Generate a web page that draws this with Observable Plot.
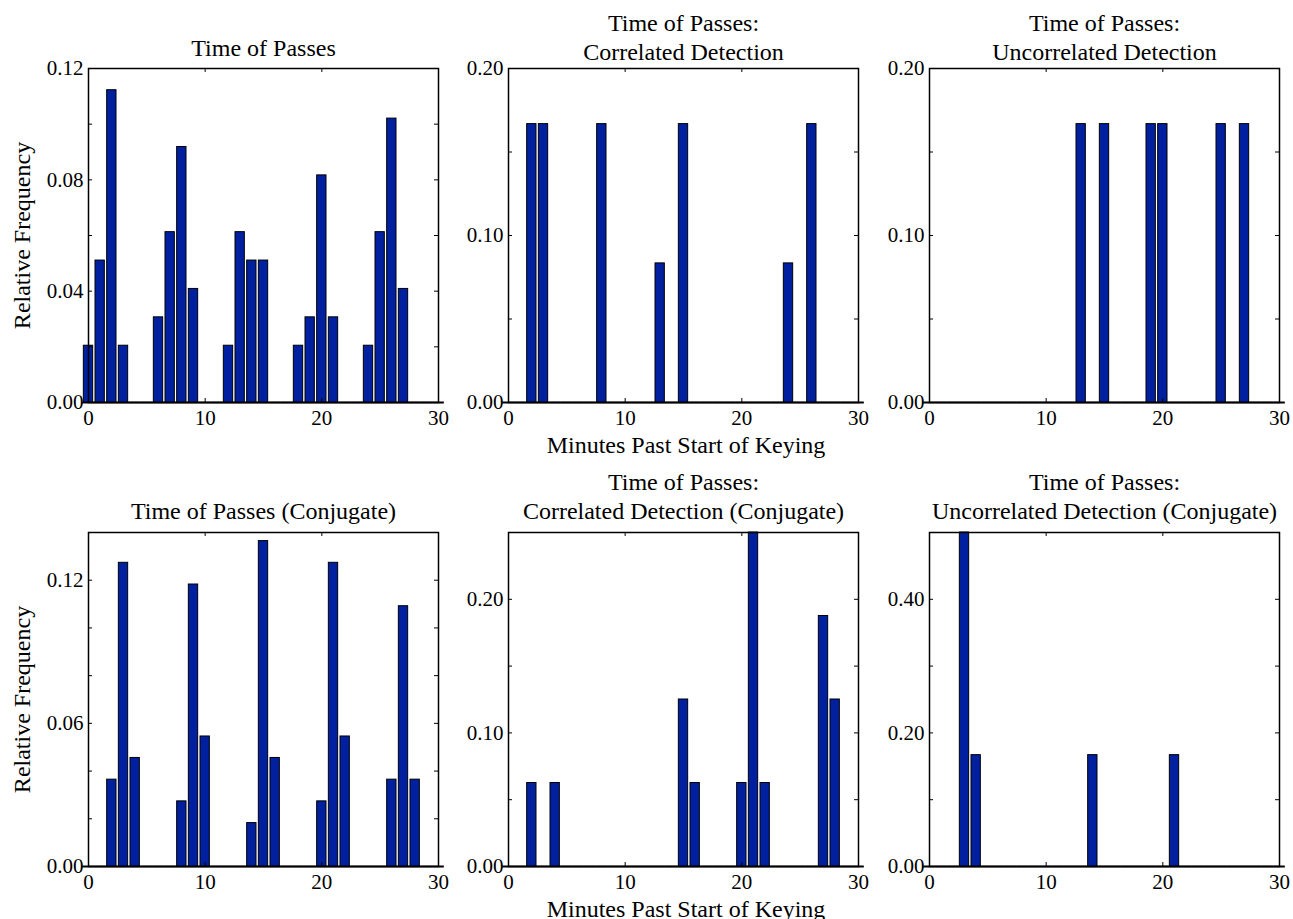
<!DOCTYPE html>
<html>
<head>
<meta charset="utf-8">
<script src="https://cdn.jsdelivr.net/npm/d3@7"></script>
<script src="https://cdn.jsdelivr.net/npm/@observablehq/plot@0.6"></script>
<style>
  html, body { margin: 0; padding: 0; background: #fff; overflow: hidden; }
  #fig { position: relative; width: 1293px; height: 919px; overflow: hidden; background: #fff; }
  #fig svg { position: absolute; font-family: 'Liberation Serif', 'Times New Roman', serif; }
  #fig svg text { font-family: 'Liberation Serif', 'Times New Roman', serif; }
</style>
</head>
<body>
<div id="fig"></div>
<script>
// ---------- data ----------
const bins = [0,1,2,3,4,5,6,7,8,9,10,11,12,13,14,15,16,17,18,19,20,21,22,23,24,25,26,27,28,29,30];
const xTickValues = [0, 10, 20, 30];

// Time of Passes
const p1Minutes = [0, 1, 2, 3, 6, 7, 8, 9, 12, 13, 14, 15, 18, 19, 20, 21, 24, 25, 26, 27];
const p1Freq = [0.0204, 0.0510, 0.1122, 0.0204, 0.0306, 0.0612, 0.0918, 0.0408, 0.0204, 0.0612,
                0.0510, 0.0510, 0.0204, 0.0306, 0.0816, 0.0306, 0.0204, 0.0612, 0.1020, 0.0408];
const p1YTicks = [0, 0.02, 0.04, 0.06, 0.08, 0.10, 0.12];
const p1YLabels = [0, 0.04, 0.08, 0.12];

// Correlated Detection
const p2Minutes = [2, 3, 8, 13, 15, 24, 26];
const p2Freq = [0.1667, 0.1667, 0.1667, 0.0833, 0.1667, 0.0833, 0.1667];
const p2YTicks = [0, 0.05, 0.10, 0.15, 0.20];
const p2YLabels = [0, 0.10, 0.20];

// Uncorrelated Detection
const p3Minutes = [13, 15, 19, 20, 25, 27];
const p3Freq = [0.1667, 0.1667, 0.1667, 0.1667, 0.1667, 0.1667];
const p3YTicks = [0, 0.05, 0.10, 0.15, 0.20];
const p3YLabels = [0, 0.10, 0.20];

// Time of Passes (Conjugate)
const p4Minutes = [2, 3, 4, 8, 9, 10, 14, 15, 16, 20, 21, 22, 26, 27, 28];
const p4Freq = [0.0364, 0.1273, 0.0455, 0.0273, 0.1182, 0.0545, 0.0182, 0.1364, 0.0455,
                0.0273, 0.1273, 0.0545, 0.0364, 0.1091, 0.0364];
const p4YTicks = [0, 0.02, 0.04, 0.06, 0.08, 0.10, 0.12, 0.14];
const p4YLabels = [0, 0.06, 0.12];

// Correlated Detection (Conjugate)
const p5Minutes = [2, 4, 15, 16, 20, 21, 22, 27, 28];
const p5Freq = [0.0625, 0.0625, 0.125, 0.0625, 0.0625, 0.25, 0.0625, 0.1875, 0.125];
const p5YTicks = [0, 0.05, 0.10, 0.15, 0.20, 0.25];
const p5YLabels = [0, 0.10, 0.20];

// Uncorrelated Detection (Conjugate)
const p6Minutes = [3, 4, 14, 21];
const p6Freq = [0.5, 0.1667, 0.1667, 0.1667];
const p6YTicks = [0, 0.1, 0.2, 0.3, 0.4, 0.5];
const p6YLabels = [0, 0.20, 0.40];

const titles = [
  "Time of Passes",
  "Time of Passes:\nCorrelated Detection",
  "Time of Passes:\nUncorrelated Detection",
  "Time of Passes (Conjugate)",
  "Time of Passes:\nCorrelated Detection (Conjugate)",
  "Time of Passes:\nUncorrelated Detection (Conjugate)"
];
const yLabel = "Relative Frequency";
const xLabel = "Minutes Past Start of Keying";

// ---------- layout ----------
const BLUE = "#0020a0";
const FONT = "'Liberation Serif', 'Times New Roman', serif";
const ML = 90, MR = 15, MT = 75, MB = 60, IW = 350, IH = 334;
const colLeft = [88.3, 507.7, 929.3];
const rowTop = [68, 532];

const specs = [
  {minutes: p1Minutes, freq: p1Freq, yMax: 0.12, yTicks: p1YTicks, yLabels: p1YLabels, title: titles[0], col: 0, row: 0, titleGap: 13, yl: true},
  {minutes: p2Minutes, freq: p2Freq, yMax: 0.20, yTicks: p2YTicks, yLabels: p2YLabels, title: titles[1], col: 1, row: 0, titleGap: 9, xl: true},
  {minutes: p3Minutes, freq: p3Freq, yMax: 0.20, yTicks: p3YTicks, yLabels: p3YLabels, title: titles[2], col: 2, row: 0, titleGap: 9},
  {minutes: p4Minutes, freq: p4Freq, yMax: 0.14, yTicks: p4YTicks, yLabels: p4YLabels, title: titles[3], col: 0, row: 1, titleGap: 14, yl: true},
  {minutes: p5Minutes, freq: p5Freq, yMax: 0.25, yTicks: p5YTicks, yLabels: p5YLabels, title: titles[4], col: 1, row: 1, titleGap: 14, xl: true},
  {minutes: p6Minutes, freq: p6Freq, yMax: 0.50, yTicks: p6YTicks, yLabels: p6YLabels, title: titles[5], col: 2, row: 1, titleGap: 14}
];

const fig = document.getElementById("fig");

for (const s of specs) {
  const data = s.minutes.map((m, i) => ({m, v: s.freq[i]}));
  const marks = [
    Plot.ruleY(bins, {y: () => 0, x1: d => d - 0.5, x2: d => d + 0.5, stroke: "black", strokeWidth: 2}),
    Plot.rectY(data, {x1: d => d.m - 0.4, x2: d => d.m + 0.4, y1: () => 0, y2: "v",
                      fill: BLUE, stroke: "black", strokeWidth: 1}),
    Plot.frame({stroke: "black", strokeWidth: 1.5}),
    Plot.tickY(s.yTicks, {y: d => d, insetRight: IW - 4, stroke: "black", strokeWidth: 1}),
    Plot.tickY(s.yTicks, {y: d => d, insetLeft: IW - 4, stroke: "black", strokeWidth: 1}),
    Plot.tickX(xTickValues, {x: d => d, insetBottom: IH - 4, stroke: "black", strokeWidth: 1}),
    Plot.tickX(xTickValues, {x: d => d, insetTop: IH - 4, stroke: "black", strokeWidth: 1}),
    Plot.axisY(s.yLabels, {tickSize: 0, tickPadding: 5, tickFormat: d3.format(".2f"), fontSize: 21, fontFamily: FONT, label: null, fill: "black"}),
    Plot.axisX(xTickValues, {tickSize: 0, tickPadding: 8, tickFormat: d => String(d), fontSize: 21, fontFamily: FONT, label: null, fill: "black"}),
    Plot.text([s.title], {frameAnchor: "top", textAnchor: "middle", lineAnchor: "bottom", dy: -s.titleGap, fontSize: 24, fontFamily: FONT, lineHeight: 1.2, fill: "black"})
  ];
  if (s.yl) marks.push(Plot.text([yLabel], {frameAnchor: "left", textAnchor: "middle", lineAnchor: "middle", rotate: -90, dx: -66, fontSize: 24, fontFamily: FONT, fill: "black"}));
  if (s.xl) marks.push(Plot.text([xLabel], {frameAnchor: "bottom", textAnchor: "middle", lineAnchor: "bottom", dy: 50, dx: 2.5, fontSize: 24, fontFamily: FONT, fill: "black"}));

  const chart = Plot.plot({
    width: ML + IW + MR,
    height: MT + IH + MB,
    marginLeft: ML, marginRight: MR, marginTop: MT, marginBottom: MB,
    x: {domain: [0, 30]},
    y: {domain: [0, s.yMax]},
    style: "background: transparent; font-family: 'Liberation Serif', 'Times New Roman', serif; font-size: 21px; overflow: visible; color: black;",
    marks
  });
  chart.style.position = "absolute";
  chart.style.left = (colLeft[s.col] - ML) + "px";
  chart.style.top = (rowTop[s.row] - MT) + "px";
  fig.appendChild(chart);
}
</script>
</body>
</html>
